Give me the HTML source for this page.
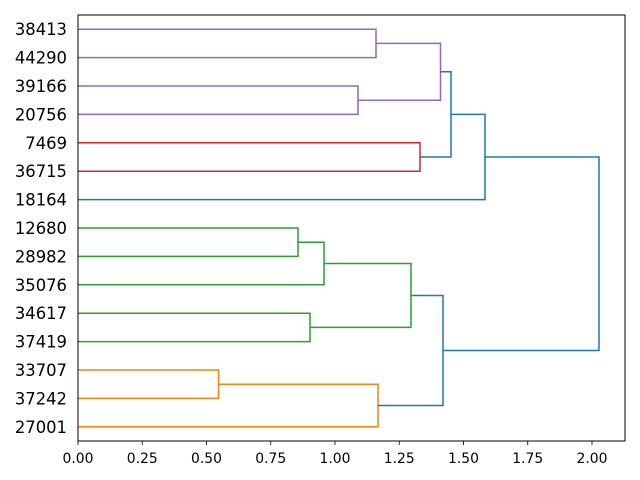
<!DOCTYPE html>
<html><head><meta charset="utf-8"><style>
html,body{margin:0;padding:0;background:#fff;}
svg{display:block;font-family:"DejaVu Sans","Liberation Sans",sans-serif;}
</style></head><body>
<svg width="640" height="480" viewBox="0 0 640 480" xmlns="http://www.w3.org/2000/svg">
<rect width="640" height="480" fill="#fff"/>
<g fill="none" stroke-width="1.5">
<!-- purple -->
<path stroke="#9467bd" d="M78 29.2H376V57.6H78"/>
<path stroke="#9467bd" d="M78 86H358V114.4H78"/>
<path stroke="#9467bd" d="M376 43.4H440.5V100.2H358"/>
<!-- red -->
<path stroke="#d62728" d="M78 142.8H420V171.2H78"/>
<!-- blue upper -->
<path stroke="#1f77b4" d="M440.5 71.8H451V157H420"/>
<path stroke="#1f77b4" d="M451 114.4H485V199.6H78"/>
<!-- green -->
<path stroke="#2ca02c" d="M78 228H298V256.4H78"/>
<path stroke="#2ca02c" d="M298 242.2H324V284.8H78"/>
<path stroke="#2ca02c" d="M78 313.2H310V341.6H78"/>
<path stroke="#2ca02c" d="M324 263.5H411V327.4H310"/>
<!-- orange -->
<path stroke="#ff7f0e" d="M78 370H218.5V398.4H78"/>
<path stroke="#ff7f0e" d="M218.5 384.2H378V426.8H78"/>
<!-- blue lower -->
<path stroke="#1f77b4" d="M411 295.45H443V405.5H378"/>
<path stroke="#1f77b4" d="M485 157H599V350.5H443"/>
</g>
<rect x="78" y="15" width="547" height="426" fill="none" stroke="#000" stroke-width="1"/>
<g stroke="#000" stroke-width="0.8">
<path d="M78 441v4M142.25 441v4M206.5 441v4M270.75 441v4M335 441v4M399.25 441v4M463.5 441v4M527.75 441v4M592 441v4"/>
</g>
<g font-size="13.9" text-anchor="middle" fill="#000">
<text x="78" y="463">0.00</text><text x="142.25" y="463">0.25</text><text x="206.5" y="463">0.50</text>
<text x="270.75" y="463">0.75</text><text x="335" y="463">1.00</text><text x="399.25" y="463">1.25</text>
<text x="463.5" y="463">1.50</text><text x="527.75" y="463">1.75</text><text x="592" y="463">2.00</text>
</g>
<g font-size="16.4" text-anchor="end" fill="#000">
<text x="67" y="35.2">38413</text><text x="67" y="63.6">44290</text><text x="67" y="92">39166</text>
<text x="67" y="120.4">20756</text><text x="67" y="148.8">7469</text><text x="67" y="177.2">36715</text>
<text x="67" y="205.6">18164</text><text x="67" y="234">12680</text><text x="67" y="262.4">28982</text>
<text x="67" y="290.8">35076</text><text x="67" y="319.2">34617</text><text x="67" y="347.6">37419</text>
<text x="67" y="376">33707</text><text x="67" y="404.4">37242</text><text x="67" y="432.8">27001</text>
</g>
</svg>
</body></html>
